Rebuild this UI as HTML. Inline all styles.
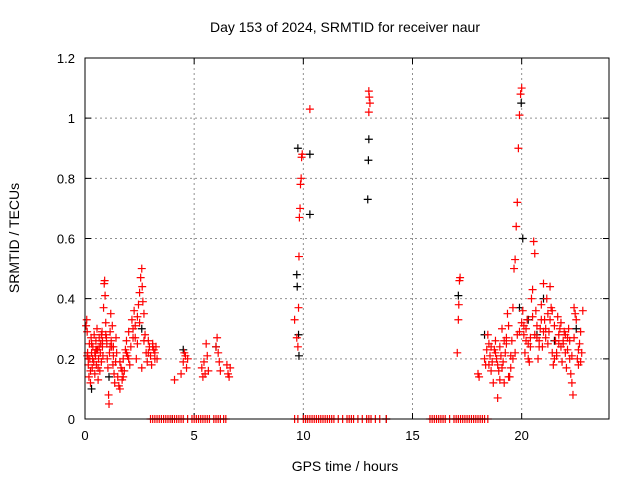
<!DOCTYPE html>
<html><head><meta charset="utf-8"><style>
body{margin:0;background:#fff}
svg{display:block;font-family:"Liberation Sans",sans-serif}
</style></head><body>
<svg id="chart" width="640" height="480">
<rect x="0" y="0" width="640" height="480" fill="#fff"/>
<text x="345" y="32" font-size="14" text-anchor="middle">Day 153 of 2024, SRMTID for receiver naur</text>
<text x="345" y="471" font-size="14" text-anchor="middle">GPS time / hours</text>
<text x="19" y="238" font-size="14" text-anchor="middle" transform="rotate(-90 19 238)">SRMTID / TECUs</text>
<g id="grid"></g>
<g id="ticks"></g>
<g id="marks"></g>
<rect x="85" y="58" width="524" height="361" fill="none" stroke="#000" stroke-width="1"/>
</svg>
<script>
const xTicks=[0,5,10,15,20];
const yTicks=[0,0.2,0.4,0.6,0.8,1,1.2];
const yTickLabels=["0","0.2","0.4","0.6","0.8","1","1.2"];
const redHours=[0.05,0.08,0.1,0.12,0.15,0.18,0.2,0.22,0.25,0.28,0.3,0.33,0.36,0.4,0.42,0.45,0.48,0.5,0.52,0.55,0.58,0.6,0.62,0.65,0.68,0.7,0.72,0.75,0.78,0.8,0.82,0.85,0.88,0.9,0.92,0.95,0.98,1.0,1.02,1.05,1.08,1.1,1.12,1.15,1.18,1.2,1.22,1.25,1.28,1.3,1.33,1.36,1.4,1.42,
1.5,1.55,1.6,1.65,1.7,1.75,1.8,1.85,1.9,1.95,2.0,2.05,2.1,2.15,2.2,2.25,2.3,2.35,2.4,2.45,2.5,2.55,2.6,2.62,2.65,2.7,2.75,2.8,2.85,2.9,2.95,3.0,3.05,3.1,3.15,3.2,3.25,3.3,
0.15,0.3,0.45,0.6,0.75,1.3,1.6,1.75,1.9,2.2,2.4,2.6,0.25,0.55,0.1,0.35,0.5,0.65,0.8,0.95,1.15,1.45,1.7,2.0,2.3,2.5,2.7,2.9,3.1,3.2,
4.1,4.4,4.5,4.55,4.6,4.65,4.7,5.35,5.4,5.45,5.5,5.55,5.6,5.65,6.0,6.05,6.1,6.15,6.2,6.5,6.55,6.6,6.65,
9.6,9.7,9.75,9.78,9.8,9.82,9.85,9.87,9.9,9.92,9.95,10.3,13.0,13.02,13.05,13.0,
17.05,17.1,17.12,17.15,17.18,
18.0,18.05,18.3,18.35,18.4,18.45,18.5,18.55,18.6,18.65,18.7,18.75,18.8,18.85,18.9,18.95,19.0,19.05,19.1,19.15,19.2,19.25,19.3,19.35,19.4,19.45,19.5,19.55,19.6,19.65,19.7,19.75,19.8,19.85,19.9,19.95,20.0,20.05,20.1,20.15,20.2,20.25,20.3,20.35,20.4,20.45,20.5,20.55,20.6,20.65,20.7,20.75,20.8,20.85,20.9,20.95,21.0,21.05,21.1,21.15,21.2,21.25,21.3,21.35,21.4,21.45,21.5,21.55,21.6,21.65,21.7,21.75,21.8,21.85,21.9,21.95,22.0,22.05,22.1,22.15,22.2,22.25,22.3,22.35,22.4,22.45,22.5,22.55,22.6,22.65,22.7,22.75,22.8,
18.6,18.9,19.2,19.4,19.7,20.1,20.3,20.6,20.9,21.2,21.5,21.8,22.1,22.4,22.7,19.0,19.5,20.4,21.0,21.6,22.2,
18.5,18.8,19.1,19.3,19.6,19.9,20.2,20.5,20.8,21.1,21.4,21.7,22.0,22.3,22.6,20.7,21.3,21.9,20.0,19.8];
const redValues=[0.31,0.33,0.29,0.22,0.18,0.14,0.25,0.2,0.12,0.27,0.22,0.17,0.24,0.19,0.28,0.15,0.21,0.26,0.18,0.3,0.23,0.13,0.2,0.27,0.16,0.22,0.25,0.19,0.29,0.24,0.21,0.37,0.45,0.46,0.41,0.32,0.27,0.25,0.2,0.17,0.08,0.05,0.22,0.29,0.35,0.26,0.24,0.31,0.18,0.21,0.15,0.12,0.19,0.27,
0.14,0.11,0.1,0.17,0.13,0.2,0.16,0.23,0.26,0.21,0.29,0.18,0.24,0.33,0.27,0.36,0.31,0.2,0.34,0.38,0.42,0.47,0.5,0.44,0.39,0.35,0.28,0.22,0.19,0.26,0.24,0.21,0.18,0.25,0.23,0.22,0.24,0.2,
0.2,0.25,0.22,0.17,0.28,0.24,0.19,0.14,0.22,0.3,0.25,0.17,0.16,0.23,0.21,0.2,0.23,0.24,0.26,0.28,0.24,0.22,0.16,0.2,0.27,0.32,0.26,0.22,0.24,0.2,
0.13,0.15,0.19,0.22,0.21,0.17,0.2,0.17,0.14,0.19,0.15,0.25,0.21,0.16,0.24,0.27,0.22,0.19,0.16,0.18,0.15,0.14,0.17,
0.33,0.27,0.24,0.37,0.54,0.67,0.7,0.78,0.8,0.87,0.88,1.03,1.09,1.07,1.05,1.02,
0.22,0.33,0.38,0.46,0.47,
0.15,0.14,0.2,0.18,0.23,0.28,0.25,0.21,0.16,0.19,0.12,0.23,0.26,0.2,0.07,0.16,0.24,0.21,0.3,0.19,0.12,0.22,0.27,0.35,0.31,0.14,0.21,0.26,0.37,0.5,0.53,0.64,0.72,0.9,1.01,1.08,1.1,0.36,0.28,0.22,0.3,0.33,0.25,0.19,0.27,0.4,0.43,0.59,0.55,0.36,0.31,0.2,0.26,0.3,0.38,0.24,0.45,0.33,0.27,0.4,0.35,0.29,0.44,0.37,0.22,0.18,0.31,0.26,0.21,0.34,0.28,0.3,0.24,0.19,0.26,0.29,0.22,0.17,0.27,0.3,0.2,0.15,0.12,0.08,0.37,0.35,0.33,0.2,0.18,0.25,0.29,0.22,0.36,
0.24,0.18,0.26,0.14,0.22,0.31,0.2,0.28,0.33,0.25,0.2,0.32,0.23,0.27,0.19,0.13,0.17,0.24,0.29,0.22,0.26,
0.18,0.22,0.17,0.25,0.2,0.29,0.26,0.34,0.24,0.3,0.36,0.25,0.28,0.21,0.23,0.27,0.33,0.25,0.32,0.28];
const zeroHours=[3.0,3.1,3.2,3.3,3.4,3.5,3.6,3.7,3.8,3.9,4.0,4.1,4.2,4.3,4.4,4.5,4.7,4.9,5.0,5.1,5.2,5.3,5.4,5.5,5.6,5.7,5.9,6.0,6.1,6.2,6.35,6.45,
9.6,9.75,10.0,10.1,10.2,10.3,10.4,10.5,10.6,10.7,10.8,10.9,11.0,11.1,11.2,11.3,11.4,11.6,11.8,12.0,12.1,12.2,12.3,12.5,12.7,12.9,13.0,13.1,13.3,13.5,13.8,
15.8,15.9,16.0,16.1,16.2,16.3,16.4,16.5,16.7,16.9,17.0,17.1,17.2,17.3,17.4,17.5,17.6,17.7,17.8,17.9,18.0,18.1,18.2,18.3,18.45];
const blackHours=[9.75,9.7,9.72,9.78,9.8,10.3,10.3,12.95,12.98,13.0,19.98,20.05,17.1,18.3,4.5,6.0,0.3,20.7,21.0,19.9,20.3,21.5,2.6,1.1,4.0,10.1,13.8,22.5];
const blackValues=[0.9,0.48,0.44,0.28,0.21,0.88,0.68,0.73,0.86,0.93,1.05,0.6,0.41,0.28,0.23,0.24,0.1,0.28,0.4,0.37,0.33,0.26,0.3,0.14,0,0,0,0.3];
const X0=85,X1=609,XMAX=24,Y0=419,Y1=58,YMAX=1.2;
function xs(h){return X0+(X1-X0)*h/XMAX;}
function ys(v){return Y0-(Y0-Y1)*v/YMAX;}
const NS="http://www.w3.org/2000/svg";
const grid=document.getElementById('grid'),ticks=document.getElementById('ticks'),marks=document.getElementById('marks');
function mk(tag,attrs,parent){const e=document.createElementNS(NS,tag);for(const k in attrs)e.setAttribute(k,attrs[k]);parent.appendChild(e);return e;}
xTicks.forEach(t=>{const x=xs(t);
 if(t>0){const g=mk('line',{x1:x,x2:x,y1:Y1,y2:Y0,stroke:'#909090','stroke-dasharray':'2,3'},grid);
 
 }
 const tk=mk('path',{d:`M${x} ${Y0}v-6M${x} ${Y1}v6`,stroke:'#000'},ticks);
 
 
 const l=mk('text',{x:x,y:Y0+21,'font-size':13,'text-anchor':'middle'},ticks);l.textContent=String(t);
 
 });
yTicks.forEach((t,i)=>{const y=ys(t);
 if(t>0&&t<YMAX){const g=mk('line',{x1:X0,x2:X1,y1:y,y2:y,stroke:'#909090','stroke-dasharray':'2,3'},grid);
 
 }
 const tk=mk('path',{d:`M${X0} ${y}h6M${X1} ${y}h-6`,stroke:'#000'},ticks);
 
 
 const l=mk('text',{x:X0-10,y:y+5,'font-size':13,'text-anchor':'end'},ticks);l.textContent=yTickLabels[i];
 
 });
function cross(h,v,color,name){const x=xs(h),y=ys(v);
 const p=mk('path',{d:`M${x-4} ${y}h8M${x} ${y-4}v8`,stroke:color,'stroke-width':1.2},marks);
 
 }
blackHours.forEach((h,i)=>cross(h,blackValues[i],'#000','black-point'));
redHours.forEach((h,i)=>cross(h,redValues[i],'#ff0000','red-point'));
zeroHours.forEach(h=>cross(h,0,'#ff0000','zero-point'));
</script>
</body></html>
